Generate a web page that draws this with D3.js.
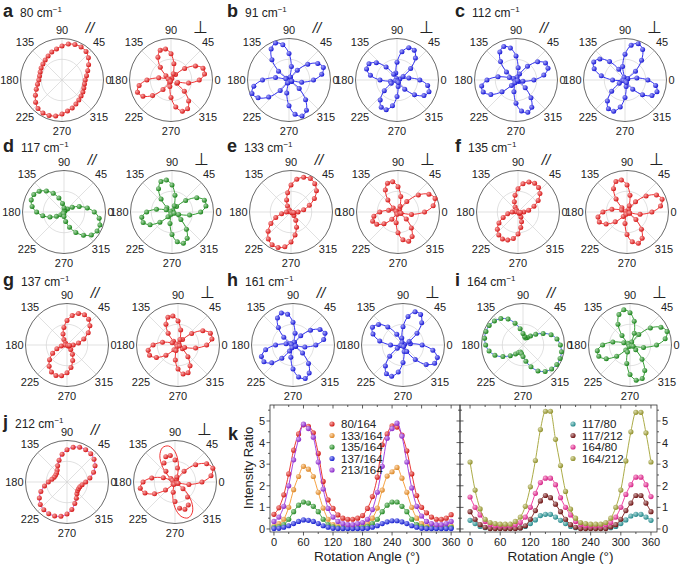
<!DOCTYPE html>
<meta charset="utf-8">
<style>
body { margin: 0; background: #fff; }
svg text { font-family: "Liberation Sans", Arial, sans-serif; fill: #222; }
</style>
<script src="https://d3js.org/d3.v7.min.js"></script>
<svg width="685" height="565"></svg>
<script>

// polar angles (deg) for panels a-j
var angles = [0,10,20,30,40,50,60,70,80,90,100,110,120,130,140,150,160,170,180,190,200,210,220,230,240,250,260,270,280,290,300,310,320,330,340,350];

// normalised intensities (1 = outer circle)
var a_par  = [.56,.60,.66,.74,.83,.90,.92,.91,.88,.82,.76,.72,.67,.63,.60,.58,.56,.55,.56,.60,.66,.74,.83,.90,.92,.91,.88,.82,.76,.72,.67,.63,.60,.58,.56,.55];
var a_perp = [.68,.82,.82,.68,.43,.17,.04,.16,.40,.63,.76,.76,.63,.40,.16,.04,.07,.30,.58,.78,.86,.78,.58,.30,.07,.04,.16,.42,.66,.80,.80,.66,.42,.16,.17,.43];
var b_par  = [.59,.80,.88,.80,.59,.31,.07,.08,.33,.64,.86,.95,.86,.64,.33,.08,.08,.33,.64,.86,.95,.86,.64,.33,.08,.07,.32,.62,.84,.92,.84,.62,.32,.07,.07,.31];
var b_perp = [.55,.29,.07,.17,.43,.69,.83,.83,.69,.43,.17,.04,.16,.41,.65,.78,.78,.65,.41,.16,.04,.16,.40,.63,.76,.76,.63,.40,.16,.04,.07,.29,.55,.75,.82,.75];
var c_par  = [.43,.68,.82,.82,.68,.43,.17,.07,.30,.58,.78,.86,.78,.58,.30,.07,.17,.44,.70,.84,.84,.70,.44,.17,.04,.07,.29,.56,.76,.83,.76,.56,.29,.07,.04,.17];
var c_perp = [.55,.29,.07,.07,.33,.62,.85,.93,.85,.62,.33,.07,.30,.58,.79,.87,.79,.58,.30,.07,.04,.16,.42,.66,.80,.80,.66,.42,.16,.04,.07,.29,.55,.75,.82,.75];
var d_par  = [.73,.57,.39,.23,.11,.04,.03,.03,.04,.10,.21,.36,.52,.66,.78,.84,.84,.78,.66,.52,.36,.21,.10,.04,.03,.03,.04,.11,.23,.39,.57,.73,.86,.92,.92,.86];
var d_perp = [.69,.83,.83,.69,.43,.17,.04,.16,.41,.65,.78,.78,.65,.41,.16,.04,.15,.38,.61,.74,.74,.61,.38,.15,.04,.06,.28,.54,.73,.80,.73,.54,.28,.06,.17,.43];
var e_par  = [.17,.31,.47,.65,.80,.89,.93,.89,.80,.65,.47,.31,.17,.07,.03,.03,.03,.04,.11,.23,.39,.56,.72,.85,.91,.91,.85,.72,.56,.39,.23,.11,.04,.03,.03,.07];
var e_perp = [.64,.86,.95,.86,.64,.33,.08,.15,.38,.61,.74,.74,.61,.38,.15,.04,.05,.23,.44,.59,.65,.59,.44,.23,.05,.06,.26,.50,.68,.75,.68,.50,.26,.06,.08,.33];
var f_par  = [.14,.26,.41,.56,.69,.77,.80,.77,.69,.56,.41,.26,.14,.06,.03,.03,.03,.05,.14,.25,.38,.53,.65,.72,.75,.72,.65,.53,.38,.25,.14,.05,.03,.03,.03,.06];
var f_perp = [.60,.82,.90,.82,.60,.32,.07,.16,.41,.65,.78,.78,.65,.41,.16,.04,.14,.37,.58,.71,.71,.58,.37,.14,.04,.06,.28,.54,.73,.80,.73,.54,.28,.06,.07,.32];
var g_par  = [.15,.28,.43,.59,.72,.81,.84,.81,.72,.59,.43,.28,.15,.06,.03,.03,.03,.03,.05,.14,.26,.40,.55,.67,.75,.78,.75,.67,.55,.40,.26,.14,.05,.03,.03,.06];
var g_perp = [.69,.83,.83,.69,.43,.17,.04,.14,.37,.58,.71,.71,.58,.37,.14,.04,.15,.38,.60,.73,.73,.60,.38,.15,.04,.14,.37,.58,.71,.71,.58,.37,.14,.04,.17,.43];
var h_par  = [.55,.75,.82,.75,.55,.29,.07,.07,.29,.55,.75,.82,.75,.55,.29,.07,.04,.17,.42,.67,.81,.81,.67,.42,.17,.07,.30,.58,.78,.86,.78,.58,.30,.07,.07,.29];
var h_perp = [.46,.18,.04,.17,.44,.70,.85,.85,.70,.44,.17,.07,.30,.57,.77,.85,.77,.57,.30,.07,.04,.16,.42,.66,.80,.80,.66,.42,.16,.04,.18,.46,.73,.88,.88,.73];
var i_par  = [.90,.83,.72,.56,.40,.28,.21,.18,.21,.28,.40,.56,.72,.83,.90,.94,.95,.94,.90,.83,.72,.56,.40,.28,.21,.18,.21,.28,.40,.56,.72,.83,.90,.94,.95,.94];
var i_perp = [.64,.86,.95,.86,.64,.33,.08,.30,.58,.78,.86,.78,.58,.30,.07,.04,.16,.42,.66,.80,.80,.66,.42,.16,.04,.18,.45,.71,.86,.86,.71,.45,.18,.04,.08,.33];
var j_par  = [.45,.56,.68,.78,.85,.89,.90,.89,.85,.78,.68,.56,.45,.37,.33,.32,.33,.37,.45,.55,.67,.77,.84,.87,.88,.87,.84,.77,.67,.55,.45,.37,.33,.32,.33,.37];
var j_perp = [.65,.88,.97,.88,.65,.34,.08,.13,.34,.53,.65,.65,.53,.34,.13,.07,.30,.57,.77,.85,.77,.57,.30,.07,.04,.06,.25,.47,.64,.70,.64,.47,.25,.06,.08,.34];
var j_perp_fit = [.65,.88,.97,.88,.65,.34,.08,.18,.46,.73,.88,.88,.73,.46,.18,.07,.30,.57,.77,.85,.77,.57,.30,.07,.04,.07,.32,.62,.84,.92,.84,.62,.32,.07,.08,.34];

// panel k
var kAngles = [0,10,20,30,40,50,60,70,80,90,100,110,120,130,140,150,160,170,180,190,200,210,220,230,240,250,260,270,280,290,300,310,320,330,340,350,360];
var r80_164  = [0.68,0.98,1.58,2.55,3.65,4.4,4.82,4.75,4.45,3.5,2.2,1.35,0.95,0.65,0.5,0.45,0.45,0.5,0.62,0.95,1.5,2.4,3.9,4.4,4.78,4.72,4.35,3.62,2.55,1.55,1.0,0.75,0.55,0.45,0.45,0.5,0.66];
var r133_164 = [0.15,0.25,0.45,1.0,1.82,2.43,2.9,2.77,2.43,1.7,0.97,0.45,0.2,0.12,0.1,0.1,0.1,0.1,0.15,0.25,0.5,0.97,1.8,2.45,2.65,2.85,2.35,1.7,1.0,0.5,0.25,0.15,0.1,0.1,0.1,0.1,0.15];
var r135_164 = [0.08,0.1,0.2,0.45,0.8,1.1,1.25,1.2,1.05,0.8,0.45,0.2,0.1,0.05,0.05,0.05,0.05,0.05,0.08,0.12,0.25,0.45,0.8,1.1,1.25,1.25,1.05,0.8,0.45,0.2,0.1,0.05,0.05,0.05,0.05,0.05,0.08];
var r137_164 = [0.02,0.03,0.08,0.15,0.25,0.35,0.42,0.4,0.35,0.25,0.15,0.08,0.03,0.02,0.02,0.02,0.02,0.02,0.02,0.03,0.08,0.15,0.25,0.33,0.38,0.38,0.33,0.25,0.15,0.08,0.03,0.02,0.02,0.02,0.02,0.02,0.02];
var r213_164 = [0.35,0.55,1.05,2.0,3.2,4.15,4.85,4.65,4.25,3.1,1.85,0.95,0.55,0.35,0.25,0.2,0.2,0.25,0.3,0.45,0.9,1.7,2.9,4.2,4.65,4.9,4.3,3.1,1.9,1.05,0.6,0.35,0.25,0.2,0.2,0.25,0.35];
var r117_80  = [0.4,0.25,0.12,0.06,0.03,0.03,0.03,0.03,0.03,0.03,0.05,0.12,0.25,0.42,0.62,0.68,0.68,0.55,0.4,0.25,0.12,0.06,0.03,0.03,0.03,0.03,0.03,0.03,0.06,0.12,0.25,0.42,0.6,0.68,0.68,0.55,0.4];
var r117_212 = [0.8,0.45,0.2,0.08,0.02,0.02,0.02,0.02,0.02,0.02,0.05,0.15,0.45,0.85,1.3,1.55,1.45,1.15,0.8,0.45,0.2,0.08,0.02,0.02,0.02,0.02,0.02,0.02,0.1,0.2,0.45,0.85,1.2,1.55,1.55,1.2,0.8];
var r164_80  = [1.48,1.0,0.65,0.35,0.2,0.15,0.15,0.15,0.15,0.2,0.3,0.55,1.0,1.65,2.15,2.35,2.35,2.05,1.45,1.0,0.65,0.35,0.2,0.15,0.15,0.15,0.15,0.2,0.3,0.55,1.0,1.6,2.05,2.4,2.4,2.05,1.5];
var r164_212 = [3.1,1.8,0.93,0.45,0.3,0.25,0.22,0.22,0.22,0.35,0.55,1.05,1.95,3.17,4.6,5.45,5.45,4.15,2.94,1.74,0.92,0.5,0.3,0.25,0.22,0.22,0.22,0.3,0.5,1.0,1.8,3.15,4.5,5.4,5.4,4.45,3.1];

var yTicks = [0,1,2,3,4,5];
var xTicks = [0,60,120,180,240,300,360];
var polarLabels = [0,45,90,135,180,225,270,315];

var RED = "#ee1c1c", BLUE = "#1c1cee", GREEN = "#1e931e";

var panels = [
  {id:"a", wn:"80",  col:RED,   par:a_par, perp:a_perp, cx:[62,171],  cy:80,  tx:3},
  {id:"b", wn:"91",  col:BLUE,  par:b_par, perp:b_perp, cx:[289,397], cy:80,  tx:227},
  {id:"c", wn:"112", col:BLUE,  par:c_par, perp:c_perp, cx:[516,625], cy:80,  tx:455},
  {id:"d", wn:"117", col:GREEN, par:d_par, perp:d_perp, cx:[64,172],  cy:212, tx:3},
  {id:"e", wn:"133", col:RED,   par:e_par, perp:e_perp, cx:[291,398], cy:212, tx:227},
  {id:"f", wn:"135", col:RED,   par:f_par, perp:f_perp, cx:[518,627], cy:212, tx:455},
  {id:"g", wn:"137", col:RED,   par:g_par, perp:g_perp, cx:[67,178],  cy:345, tx:3},
  {id:"h", wn:"161", col:BLUE,  par:h_par, perp:h_perp, cx:[293,403], cy:345, tx:227},
  {id:"i", wn:"164", col:GREEN, par:i_par, perp:i_perp, cx:[523,630], cy:345, tx:455, parLine:"#3355dd"},
  {id:"j", wn:"212", col:RED,   par:j_par, perp:j_perp, cx:[67,175],  cy:482, tx:3, parLine:"#c03ad8", perpFit:j_perp_fit}
];

var svg = d3.select("svg");
var defs = svg.append("defs");
var R = 41.5;

function ball(color) {
  var id = "g" + color.replace("#", "");
  if (defs.select("#" + id).empty()) {
    var gr = defs.append("radialGradient").attr("id", id)
        .attr("cx", "35%").attr("cy", "35%").attr("r", "65%");
    gr.append("stop").attr("offset", "0%").attr("stop-color", d3.interpolateRgb(color, "#fff")(0.6));
    gr.append("stop").attr("offset", "100%").attr("stop-color", d3.color(color).darker(0.3));
  }
  return "url(#" + id + ")";
}

var rad = d3.scaleLinear().domain([0, 1]).range([0, R]);

function polar(cx, cy, vals, fit, color, lineColor, sym) {
  var g = svg.append("g").attr("transform", "translate(" + cx + "," + cy + ")");

  g.append("circle").attr("r", rad(0.5)).attr("fill", "none").attr("stroke", "#d4d4d4").attr("stroke-width", 0.7);
  g.selectAll(".spoke").data(polarLabels).enter().append("line")
      .attr("x2", function(d) { return R * Math.cos(d * Math.PI / 180); })
      .attr("y2", function(d) { return -R * Math.sin(d * Math.PI / 180); })
      .attr("stroke", "#d4d4d4").attr("stroke-width", 0.7);
  g.append("circle").attr("r", R).attr("fill", "none").attr("stroke", "#444").attr("stroke-width", 0.8);

  g.selectAll(".lab").data(polarLabels).enter().append("text")
      .attr("font-size", 11)
      .attr("text-anchor", function(d) { return d == 0 ? "start" : d == 180 ? "end" : "middle"; })
      .attr("x", function(d) {
        if (d == 0) return R + 2;
        if (d == 180) return -R - 2;
        if (d == 90 || d == 270) return 0;
        return (d == 45 || d == 315 ? 37 : -37);
      })
      .attr("y", function(d) {
        if (d == 0 || d == 180) return 4;
        if (d == 90) return -R - 5;
        if (d == 270) return R + 13;
        return (d == 45 || d == 135 ? -34 : 41);
      })
      .text(function(d) { return d; });

  var pts = angles.map(function(a, i) { return {a: a, v: vals[i]}; });
  var fitPts = angles.map(function(a, i) { return {a: a, v: (fit || vals)[i]}; });

  var line = d3.lineRadial()
      .angle(function(d) { return (90 - d.a) * Math.PI / 180; })
      .radius(function(d) { return rad(d.v); })
      .curve(d3.curveCatmullRomClosed.alpha(0.5));

  g.append("path").attr("d", line(fitPts)).attr("fill", "none")
      .attr("stroke", lineColor).attr("stroke-width", 0.9);

  g.selectAll(".pt").data(pts).enter().append("circle")
      .attr("cx", function(d) { return rad(d.v) * Math.cos(d.a * Math.PI / 180); })
      .attr("cy", function(d) { return -rad(d.v) * Math.sin(d.a * Math.PI / 180); })
      .attr("r", 2.5)
      .attr("fill", ball(color));

  if (sym == "par") {
    g.append("text").attr("x", 28).attr("y", -47).attr("text-anchor", "middle")
        .attr("font-size", 15).attr("font-style", "italic").text("//");
  } else {
    g.append("text").attr("x", 29).attr("y", -47).attr("text-anchor", "middle")
        .attr("font-size", 17).attr("font-family", "DejaVu Sans").text("\u22a5");
  }
}

var titleY = {80: 17, 212: 152, 345: 286, 482: 428};

panels.forEach(function(p) {
  var t = svg.append("text").attr("x", p.tx).attr("y", titleY[p.cy]);
  t.append("tspan").attr("font-size", 18).attr("font-weight", "bold").text(p.id);
  t.append("tspan").attr("dx", 7).attr("font-size", 12).text(p.wn + " cm");
  t.append("tspan").attr("dy", -5).attr("font-size", 8).text("\u22121");

  polar(p.cx[0], p.cy, p.par, null, p.col, p.parLine || p.col, "par");
  polar(p.cx[1], p.cy, p.perp, p.perpFit, p.col, p.col, "perp");
});

// ---- panel k ----
svg.append("text").attr("x", 228).attr("y", 440).attr("font-size", 18).attr("font-weight", "bold").text("k");

var y = d3.scaleLinear().domain([-0.14, 5.74]).range([532, 405]);

function ratioChart(x0, x1, xDomain, series, side, legendX) {
  var x = d3.scaleLinear().domain(xDomain).range([x0, x1]);
  var g = svg.append("g");

  g.append("rect").attr("x", x0).attr("y", 405).attr("width", x1 - x0).attr("height", 127)
      .attr("fill", "none").attr("stroke", "#333").attr("stroke-width", 0.8);

  // x ticks (bottom outward, top inward) with minor ticks
  var minor = d3.range(0, 361, 30);
  g.selectAll(".xt").data(minor).enter().append("line")
      .attr("x1", x).attr("x2", x)
      .attr("y1", 532).attr("y2", function(d) { return d % 60 == 0 ? 535.5 : 534; })
      .attr("stroke", "#333").attr("stroke-width", 0.8);
  g.selectAll(".xtt").data(minor).enter().append("line")
      .attr("x1", x).attr("x2", x)
      .attr("y1", 405).attr("y2", function(d) { return d % 60 == 0 ? 408.5 : 407; })
      .attr("stroke", "#333").attr("stroke-width", 0.8);
  g.selectAll(".xl").data(xTicks).enter().append("text")
      .attr("x", x).attr("y", 546).attr("text-anchor", "middle").attr("font-size", 11)
      .text(function(d) { return d; });

  // y ticks
  var yMinor = d3.range(0, 5.6, 0.5);
  var ax = side == "left" ? x0 : x1, dir = side == "left" ? -1 : 1;
  var bx = side == "left" ? x1 : x0;
  g.selectAll(".yt").data(yMinor).enter().append("line")
      .attr("x1", ax).attr("x2", function(d) { return ax + dir * (d % 1 == 0 ? 3.5 : 2); })
      .attr("y1", y).attr("y2", y).attr("stroke", "#333").attr("stroke-width", 0.8);
  g.selectAll(".yt2").data(yMinor).enter().append("line")
      .attr("x1", bx).attr("x2", function(d) { return bx + dir * (d % 1 == 0 ? 3.5 : 2); })
      .attr("y1", y).attr("y2", y).attr("stroke", "#333").attr("stroke-width", 0.8);
  g.selectAll(".yl").data(yTicks).enter().append("text")
      .attr("x", ax + dir * 5).attr("y", function(d) { return y(d) + 4; })
      .attr("text-anchor", side == "left" ? "end" : "start").attr("font-size", 11)
      .text(function(d) { return d; });

  g.append("text").attr("x", (x0 + x1) / 2 + 2).attr("y", 561).attr("text-anchor", "middle")
      .attr("font-size", 13.5).text("Rotation Angle (\u00b0)");

  var line = d3.line().x(function(d) { return x(d.a); }).y(function(d) { return y(d.v); })
      .curve(d3.curveMonotoneX);

  series.forEach(function(s, si) {
    var pts = kAngles.map(function(a, i) { return {a: a, v: s.vals[i]}; });
    g.append("path").attr("d", line(pts)).attr("fill", "none")
        .attr("stroke", s.color).attr("stroke-width", 0.9);
    g.selectAll(".p" + si).data(pts).enter().append("circle")
        .attr("cx", function(d) { return x(d.a); }).attr("cy", function(d) { return y(d.v); })
        .attr("r", 2.6).attr("fill", ball(s.color));
    var ly = 424 + si * 11.5;
    g.append("circle").attr("cx", legendX).attr("cy", ly).attr("r", 2.6).attr("fill", ball(s.color));
    g.append("text").attr("x", legendX + 9).attr("y", ly + 4).attr("font-size", 11.5).text(s.name);
  });
}

ratioChart(270, 460, [-8, 378], [
  {name: "80/164",  color: "#e8201c", vals: r80_164},
  {name: "133/164", color: "#f5962a", vals: r133_164},
  {name: "135/164", color: "#2a9a2a", vals: r135_164},
  {name: "137/164", color: "#1a22e6", vals: r137_164},
  {name: "213/164", color: "#9b30e0", vals: r213_164}
], "left", 332);

ratioChart(460, 657, [-20, 372], [
  {name: "117/80",  color: "#2a9a9c", vals: r117_80},
  {name: "117/212", color: "#7a1414", vals: r117_212},
  {name: "164/80",  color: "#ee2a96", vals: r164_80},
  {name: "164/212", color: "#a2a232", vals: r164_212}
], "right", 573);

svg.append("text").attr("transform", "translate(253,468) rotate(-90)")
    .attr("text-anchor", "middle").attr("font-size", 13).text("Intensity Ratio");

</script>
